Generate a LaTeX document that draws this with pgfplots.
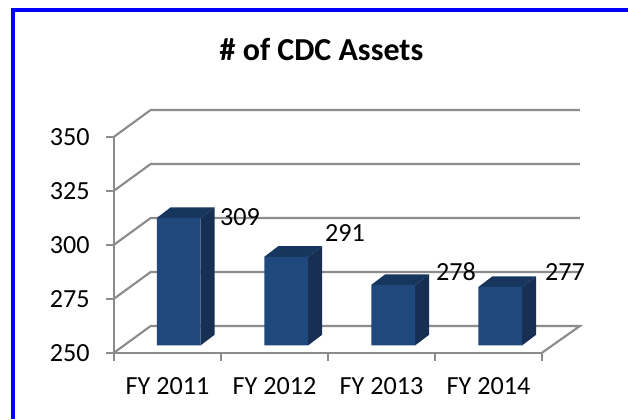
\documentclass[border=0pt]{standalone}
\usepackage{pgfplots}
\pgfplotsset{compat=1.18}
\usepackage{fontspec}
\setmainfont{Carlito}
\definecolor{barfront}{HTML}{1F497D}
\definecolor{barside}{HTML}{162F52}
\definecolor{bartop}{HTML}{17365D}
\definecolor{wall}{HTML}{8C8C8C}
\definecolor{frameblue}{HTML}{0000FF}
\begin{document}
\begin{tikzpicture}
\path[use as bounding box] (0,0) rectangle (471pt,314.25pt);
\fill[white] (0,0) rectangle (471pt,314.25pt);
% blue frame: left and top only
\draw[frameblue,line width=3pt,line cap=butt,line join=miter] (9.75pt,0) -- (9.75pt,306.4pt) -- (471pt,306.4pt);
\begin{axis}[
  at={(85.5pt,49.7pt)},anchor=south west,
  scale only axis,width=321pt,height=162pt,
  xmin=0,xmax=4,ymin=250,ymax=350,
  clip=false,axis on top,
  axis lines*=left,
  axis line style={wall,line width=1.6pt,-},
  tick style={wall,line width=1.6pt},
  tick align=outside,major tick length=6pt,
  xtick={0,1,2,3,4},
  x tick label as interval,
  xticklabels={FY 2011,FY 2012,FY 2013,FY 2014},
  ytick={250,275,300,325,350},
  /pgf/number format/assume math mode=true,
  tick label style={font=\fontsize{19.6}{23}\selectfont,black},
  yticklabel style={inner sep=0pt,xshift=-12pt},
  xticklabel style={inner sep=0pt,yshift=-12.5pt},
  bars3d/.style={yshift=5.55pt,draw=none},
]
% back-wall gridlines and side-wall diagonals
\addplot[wall,line width=1.6pt] coordinates {(0,250)(0.343,262.4)(4.355,262.4)(4,250)};
\addplot[wall,line width=1.6pt] coordinates {(0,275)(0.343,287.4)(4.355,287.4)};
\addplot[wall,line width=1.6pt] coordinates {(0,300)(0.343,312.4)(4.355,312.4)};
\addplot[wall,line width=1.6pt] coordinates {(0,325)(0.343,337.4)(4.355,337.4)};
\addplot[wall,line width=1.6pt] coordinates {(0,350)(0.343,362.4)(4.355,362.4)};
% bar side faces
\addplot[bars3d,fill=barside] coordinates {(0.81,250)(0.94,254.9)(0.94,313.9)(0.81,309)} --cycle;
\addplot[bars3d,fill=barside] coordinates {(1.815,250)(1.945,254.9)(1.945,295.9)(1.815,291)} --cycle;
\addplot[bars3d,fill=barside] coordinates {(2.815,250)(2.945,254.9)(2.945,282.9)(2.815,278)} --cycle;
\addplot[bars3d,fill=barside] coordinates {(3.815,250)(3.945,254.9)(3.945,281.9)(3.815,277)} --cycle;
% bar top faces
\addplot[bars3d,fill=bartop] coordinates {(0.40,309)(0.81,309)(0.94,313.9)(0.53,313.9)} --cycle;
\addplot[bars3d,fill=bartop] coordinates {(1.405,291)(1.815,291)(1.945,295.9)(1.535,295.9)} --cycle;
\addplot[bars3d,fill=bartop] coordinates {(2.405,278)(2.815,278)(2.945,282.9)(2.535,282.9)} --cycle;
\addplot[bars3d,fill=bartop] coordinates {(3.405,277)(3.815,277)(3.945,281.9)(3.535,281.9)} --cycle;
% bar front faces
\addplot[ybar,bar width=0.41,bar shift=0pt,fill=barfront,bars3d] coordinates {(0.605,309)(1.61,291)(2.61,278)(3.61,277)};
% data labels
\node[anchor=base,inner sep=0pt,font=\fontsize{19.6}{23}\selectfont] at (axis cs:1.178,308.7) {309};
\node[anchor=base,inner sep=0pt,font=\fontsize{19.6}{23}\selectfont] at (axis cs:2.159,301.4) {291};
\node[anchor=base,inner sep=0pt,font=\fontsize{19.6}{23}\selectfont] at (axis cs:3.196,283.3) {278};
\node[anchor=base,inner sep=0pt,font=\fontsize{19.6}{23}\selectfont] at (axis cs:4.215,283.3) {277};
\end{axis}
\node[anchor=base,inner sep=0pt,font=\fontsize{24}{28}\selectfont\bfseries] at (241.1pt,269.25pt) {\# of CDC Assets};
\end{tikzpicture}
\end{document}
